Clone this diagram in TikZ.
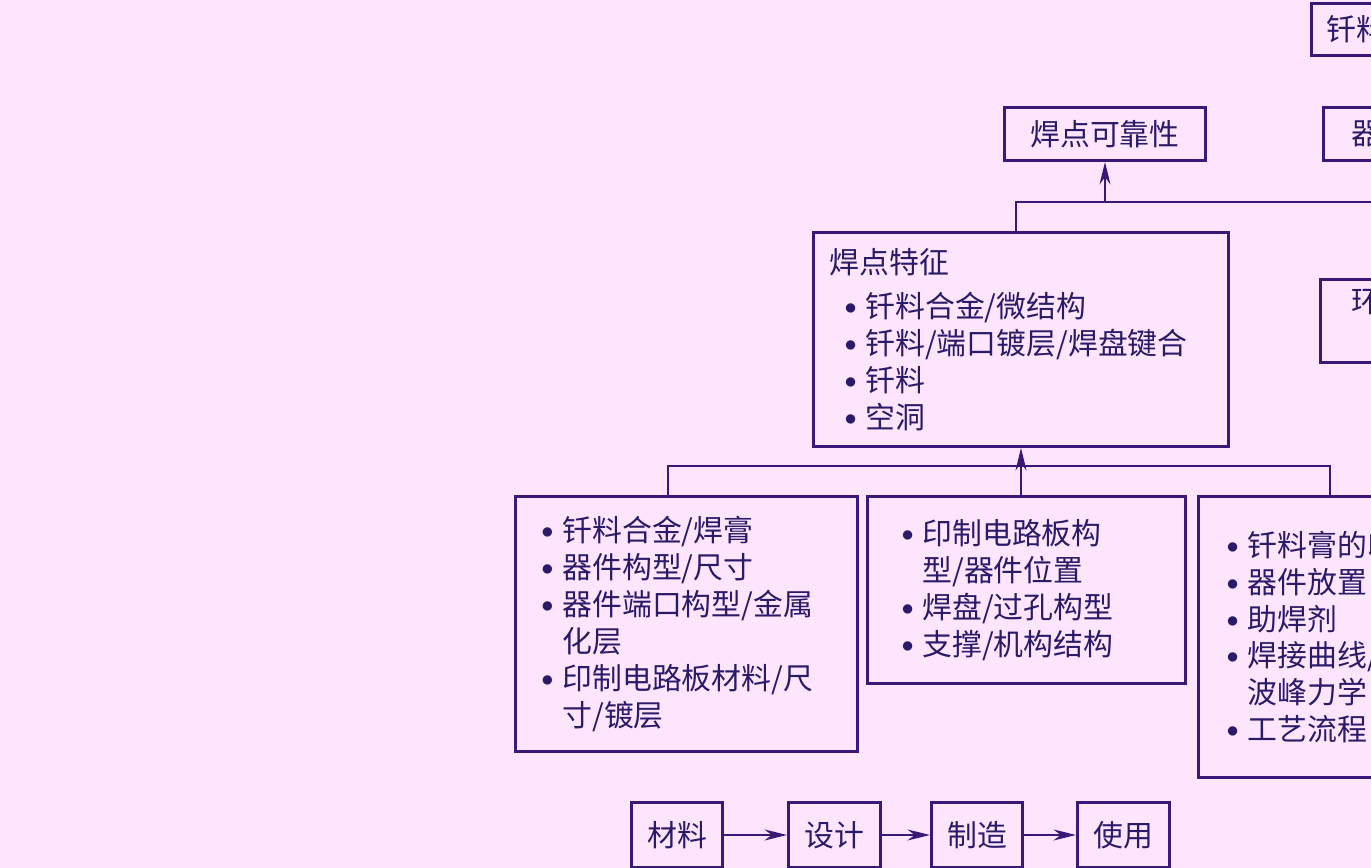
\documentclass[tikz,border=0pt]{standalone}
\usepackage{fontspec}
\setmainfont{Noto Sans CJK SC}
\usetikzlibrary{arrows.meta,positioning}

\definecolor{pagebg}{RGB}{253,230,253}
\definecolor{ink}{RGB}{58,24,120}
\definecolor{txt}{RGB}{42,26,104}
\newcommand{\bl}{\makebox[0.42cm][l]{\raisebox{0.1em}{\scalebox{0.8}{$\bullet$}}}}
\newcommand{\ct}{\hspace*{0.42cm}}

\begin{document}
\begin{tikzpicture}[
  box/.style={draw=ink,line width=1.7pt,text=txt,inner sep=0pt,
    font=\fontsize{17pt}{21pt}\selectfont,anchor=north west},
  listbox/.style={box,align=left},
  link/.style={draw=ink,line width=1pt},
  arr/.style={link,-{Stealth[length=0.45cm,width=0.22cm]}}
]
  \fill[pagebg] (0,0) rectangle (27.42,-17.36);
  \useasboundingbox (0,0) rectangle (27.42,-17.36);
  \clip (0,0) rectangle (27.42,-17.36);

  % top row
  \node[listbox,text width=4cm,inner xsep=0.3cm,minimum height=1.04cm] (sold) at (26.2,-0.04) {钎料};
  \node[box,minimum width=4.02cm,minimum height=1.06cm] (rel) at (20.06,-2.12) {焊点可靠性};
  \node[listbox,text width=3cm,inner xsep=0.56cm,minimum height=1.06cm] (dev) at (26.44,-2.12) {器};

  % joint features
  \node[listbox,text width=7.66cm,inner xsep=0.32cm,minimum height=4.28cm] (feat) at (16.24,-4.62) {%
    焊点特征\\[0.16cm]
    \hspace*{0.3cm}\bl 钎料合金/微结构\\
    \hspace*{0.3cm}\bl 钎料/端口镀层/焊盘键合\\
    \hspace*{0.3cm}\bl 钎料\\
    \hspace*{0.3cm}\bl 空洞};
  \node[listbox,text width=4cm,inner xsep=0.62cm,minimum height=1.66cm] (env) at (26.38,-5.56) {环\\ \phantom{环}};

  % material / design / manufacture
  \node[listbox,text width=5.8cm,inner xsep=0.52cm,minimum height=5.1cm] (mat) at (10.28,-9.9) {%
    \bl 钎料合金/焊膏\\
    \bl 器件构型/尺寸\\
    \bl 器件端口构型/金属\\
    \ct 化层\\
    \bl 印制电路板材料/尺\\
    \ct 寸/镀层};
  \node[listbox,text width=5cm,inner xsep=0.68cm,minimum height=3.74cm] (des) at (17.32,-9.9) {%
    \bl 印制电路板构\\
    \ct 型/器件位置\\
    \bl 焊盘/过孔构型\\
    \bl 支撑/机构结构};
  \node[listbox,text width=7cm,inner xsep=0.56cm,minimum height=5.62cm] (mfg) at (23.94,-9.9) {%
    \bl 钎料膏的印刷\\
    \bl 器件放置\\
    \bl 助焊剂\\
    \bl 焊接曲线/\\
    \ct 波峰力学\\
    \bl 工艺流程};

  % flow row
  \node[box,minimum width=1.82cm,minimum height=1.3cm] (m) at (12.6,-16.02) {材料};
  \node[box,minimum width=1.84cm,minimum height=1.3cm] (d) at (15.74,-16.02) {设计};
  \node[box,minimum width=1.82cm,minimum height=1.3cm] (f) at (18.6,-16.02) {制造};
  \node[box,minimum width=1.84cm,minimum height=1.3cm] (u) at (21.52,-16.02) {使用};

  % buses
  \coordinate (ub1) at (20.32,-4.04);
  \coordinate (ub2) at (28,-4.04);
  \coordinate (lb1) at (13.36,-9.32);
  \coordinate (lb3) at (26.6,-9.32);

  \draw[link] (ub1 |- feat.north) -- (ub1) -- (ub2);
  \draw[arr] (rel.south |- ub1) -- (rel.south);
  \draw[link] (lb1 |- mat.north) -- (lb1) -- (lb3) -- (lb3 |- mfg.north);
  \draw[arr] (feat.south |- des.north) -- (feat.south);

  \draw[arr] (m) -- (d);
  \draw[arr] (d) -- (f);
  \draw[arr] (f) -- (u);
\end{tikzpicture}
\end{document}
